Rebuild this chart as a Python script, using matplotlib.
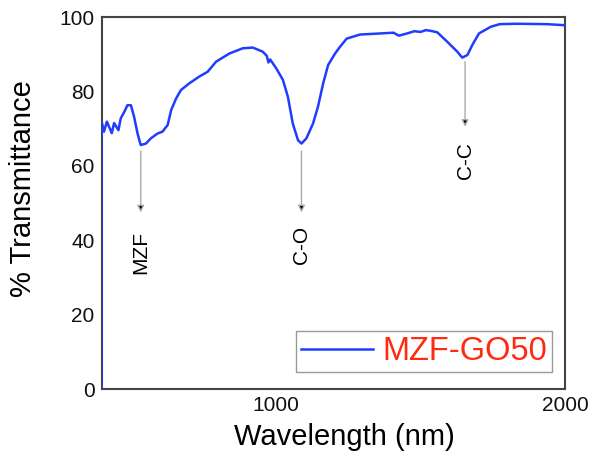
import matplotlib
matplotlib.use('Agg')
import matplotlib.pyplot as plt

# FTIR trace
wavelength = [400, 400, 408, 418, 435, 443, 458, 466, 478, 489, 501, 512, 524, 535,
              553, 570, 593, 610, 628, 640, 657, 674, 703, 737, 766, 795, 841,
              887, 922, 956, 970, 976, 982, 1003, 1026, 1043, 1060, 1078, 1090,
              1107, 1130, 1147, 1165, 1182, 1206, 1223, 1246, 1292, 1363, 1408,
              1426, 1455, 1480, 1501, 1520, 1536, 1559, 1593, 1628, 1645, 1663,
              1680, 1703, 1744, 1775, 1833, 1937, 2000]
transmittance = [0, 71.9, 69.2, 71.9, 68.8, 71.5, 69.6, 72.8, 74.5, 76.3, 76.3, 73.2,
                 68.7, 65.6, 66.0, 67.4, 68.7, 69.2, 71.0, 75.0, 78.1, 80.4, 82.2,
                 84.0, 85.3, 88.0, 90.2, 91.6, 91.8, 90.7, 89.6, 87.8, 88.6, 86.2,
                 83.1, 78.6, 71.4, 66.9, 66.0, 67.4, 71.4, 75.9, 82.2, 87.1, 90.2,
                 92.0, 94.2, 95.3, 95.6, 95.8, 95.0, 95.6, 96.2, 96.0, 96.5, 96.3,
                 95.9, 93.4, 90.7, 89.1, 89.8, 92.5, 95.6, 97.4, 98.1, 98.2, 98.1,
                 97.8]

peak_labels = ['MZF', 'C-O', 'C-C']
peak_x = [535, 1090, 1655]
arrow_start = [64.0, 64.0, 88.0]
arrow_end = [47.5, 47.5, 70.5]
text_top = [42.5, 44.0, 66.5]

plt.rcParams['font.family'] = ['Liberation Sans', 'DejaVu Sans']

fig = plt.figure(figsize=(5.91, 4.54), dpi=100)
ax = fig.add_axes([0.172, 0.143, 0.784, 0.8194])

ax.plot(wavelength, transmittance, color='#1f3cff', lw=1.8, label='MZF-GO50', zorder=3)

for lab, x, y0, y1, yt in zip(peak_labels, peak_x, arrow_start, arrow_end, text_top):
    ax.annotate('', xy=(x, y1), xytext=(x, y0),
                arrowprops=dict(arrowstyle='-|>', ec='#aaaaaa', fc='black',
                                lw=1.0, mutation_scale=10, shrinkA=0, shrinkB=0))
    ax.text(x, yt, lab, rotation=90, ha='center', va='top', fontsize=15)

ax.set_xlim(400, 2000)
ax.set_ylim(0, 100)
ax.set_xticks([1000, 2000])
ax.set_yticks([0, 20, 40, 60, 80, 100])
ax.tick_params(length=0, labelsize=15, pad=5, colors='#111111')
for s in ax.spines.values():
    s.set_color('#444444')
    s.set_linewidth(1.5)

ax.set_xlabel('Wavelength (nm)', fontsize=21)
ax.set_ylabel('% Transmittance', fontsize=21)
ax.xaxis.set_label_coords(0.523, -0.09)
ax.yaxis.set_label_coords(-0.14, 0.54)

leg = ax.legend(loc='lower right', bbox_to_anchor=(0.972, 0.046), borderaxespad=0,
                fontsize=23.5, handlelength=2.2, handletextpad=0.3, borderpad=0.15,
                fancybox=False, framealpha=1, edgecolor='#999999')
leg.get_frame().set_linewidth(1.0)
for t in leg.get_texts():
    t.set_color('#ff2a10')

fig.savefig('out.png', dpi=100)
